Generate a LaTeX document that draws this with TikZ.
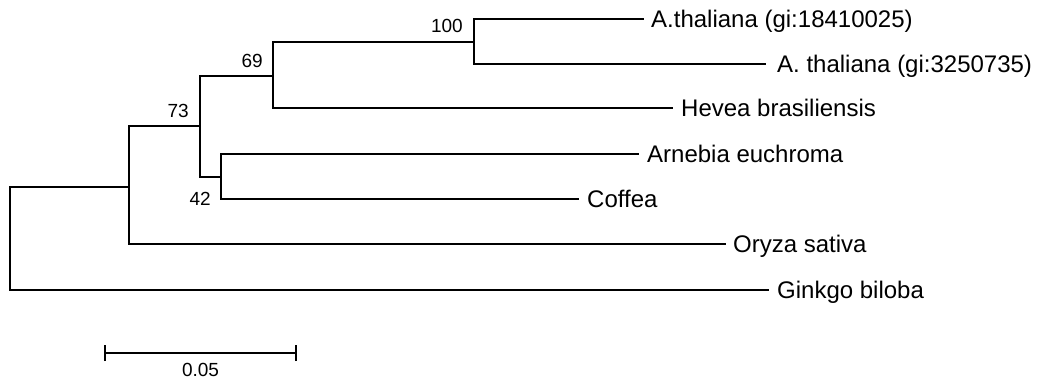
\documentclass[tikz,border=0pt]{standalone}
\usepackage{fontspec}
\setmainfont{Liberation Sans}
\begin{document}
\begin{tikzpicture}[x=1pt,y=-1pt,
  branch/.style={line width=1.4pt,line cap=rect},
  leaf/.style={anchor=base west,inner sep=0pt,font=\fontsize{24}{28}\selectfont},
  boot/.style={anchor=base east,inner sep=0pt,font=\fontsize{19}{22}\selectfont}]
\useasboundingbox (0,0) rectangle (1039,381);
% internal nodes (where the incoming branch meets the vertical)
\coordinate (root) at (10,187);
\coordinate (n73)  at (129,187);
\coordinate (nA)   at (200,126);
\coordinate (n69)  at (273,76);
\coordinate (n100) at (474,42);
\coordinate (n42)  at (221,177);
% branch tips
\coordinate (tA1) at (643,19);
\coordinate (tA2) at (765,64);
\coordinate (tHe) at (672,108);
\coordinate (tAr) at (638,154);
\coordinate (tCo) at (578,199);
\coordinate (tOr) at (725,244);
\coordinate (tGi) at (768,290);
% taxon names
\node[leaf] (lA1) at ([shift={(8,8.5)}]tA1) {A.thaliana (gi:18410025)};
\node[leaf] (lA2) at ([shift={(12,8.5)}]tA2) {A. thaliana (gi:3250735)};
\node[leaf] (lHe) at ([shift={(9,8.5)}]tHe) {Hevea brasiliensis};
\node[leaf] (lAr) at ([shift={(9,8.5)}]tAr) {Arnebia euchroma};
\node[leaf] (lCo) at ([shift={(9,8.5)}]tCo) {Coffea};
\node[leaf] (lOr) at ([shift={(8,8.5)}]tOr) {Oryza sativa};
\node[leaf] (lGi) at ([shift={(9,8.5)}]tGi) {Ginkgo biloba};
% branches
\draw[branch] (root) |- (n73);
\draw[branch] (root) |- (tGi);
\draw[branch] (n73) |- (nA);
\draw[branch] (n73) |- (tOr);
\draw[branch] (nA) |- (n69);
\draw[branch] (nA) |- (n42);
\draw[branch] (n69) |- (n100);
\draw[branch] (n69) |- (tHe);
\draw[branch] (n100) |- (tA1);
\draw[branch] (n100) |- (tA2);
\draw[branch] (n42) |- (tAr);
\draw[branch] (n42) |- (tCo);
% bootstrap values
\node[boot] (b100) at ([shift={(-11,-10)}]n100) {100};
\node[boot] (b69)  at ([shift={(-10,-9)}]n69) {69};
\node[boot] (b73)  at ([shift={(-11,-9)}]nA) {73};
\node[boot] (b42)  at ([shift={(-10,28)}]n42) {42};
% scale bar
\coordinate (s0) at (105,353);
\coordinate (s1) at (296,353);
\draw[branch,line cap=butt] (s0) -- (s1);
\draw[branch,line cap=butt] ([yshift=-8]s0) -- ([yshift=8]s0);
\draw[branch,line cap=butt] ([yshift=-8]s1) -- ([yshift=8]s1);
\node[anchor=base,inner sep=0pt,font=\fontsize{19}{22}\selectfont] (scl) at (200.5,376.5) {0.05};
\end{tikzpicture}
\end{document}
